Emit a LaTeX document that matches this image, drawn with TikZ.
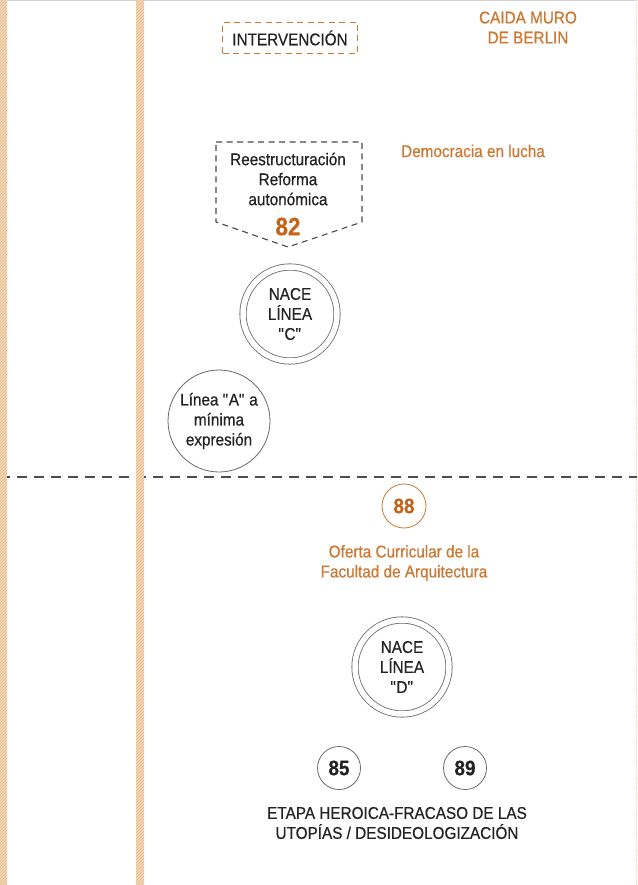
\documentclass[tikz,border=0pt]{standalone}
\usepackage{fontspec}
\setmainfont[FakeStretch=0.9, FakeBold=0.5]{Liberation Sans}
\usepackage{tikz}
\usetikzlibrary{positioning,patterns}

\definecolor{franja}{RGB}{244,214,182}
\definecolor{franjaosc}{RGB}{230,186,142}
\definecolor{naranja}{RGB}{204,120,50}
\definecolor{naranjo}{RGB}{195,100,25}
\definecolor{texto}{RGB}{35,35,35}
\definecolor{trazo}{RGB}{105,105,105}

\begin{document}
\begin{tikzpicture}[x=1pt, y=-1pt,
    every node/.style={font=\fontsize{17}{20}\selectfont, text=texto, align=center, inner sep=0pt},
    anillo/.style={circle, draw=trazo, line width=0.8pt, minimum size=#1},
    dobleanillo/.style={circle, draw=trazo, line width=0.8pt, double=white, double distance=5.5pt, minimum size=94pt},
    numero/.style={font=\fontsize{21}{21}\selectfont\bfseries},
    guiones/.style={dash pattern=on 6pt off 4.5pt, line width=1.1pt}]
    \useasboundingbox (0,0) rectangle (637,885);
    \fill[white] (0,0) rectangle (637,885);
    \draw[gray!35, line width=1.2pt] (0,0.6) -- (637,0.6);
    \draw[franja, densely dotted, line width=0.8pt] (636,0) -- (636,885);

    % linea divisoria
    \draw[gray!60!black, dash pattern=on 10pt off 7pt, line width=1.6pt] (0,477) -- (637,477);

    % franjas
    \foreach \xa/\xb in {0/7, 136/144} {
        \fill[franja] (\xa,0) rectangle (\xb,885);
        \fill[pattern=north east lines, pattern color=franjaosc] (\xa,0) rectangle (\xb,885);
    }

    % parte superior
    \node[draw=naranja, guiones, minimum width=135pt, minimum height=31pt] (interv) at (290,38) {INTERVENCIÓN};
    \node[text=naranja] (muro) at (528,27.5) {CAIDA MURO\\DE BERLIN};
    \node[text=naranja] (democ) at (473,151) {Democracia en lucha};

    \draw[trazo!70!black, guiones] (216,142) -- (362,142) -- (362,222) -- (288,247) -- (216,222) -- cycle;
    \node (reest) at (288,179) {Reestructuración\\Reforma\\autonómica};
    \node[text=naranjo, font=\fontsize{25}{25}\selectfont\bfseries, below=12pt of reest] (ochenta2) {82};

    \node[dobleanillo] (nacec) at (290,314) {NACE\\LÍNEA\\\textquotedbl C\textquotedbl};
    \node[anillo=102pt] (lineaa) at (219,421) {Línea \textquotedbl A\textquotedbl{} a\\mínima\\expresión};

    % parte inferior
    \node[anillo=44pt, draw=naranja, numero, text=naranjo] (ochenta8) at (404,506) {88};
    \node[text=naranja] (oferta) at (404,563) {Oferta Curricular de la\\Facultad de Arquitectura};

    \node[dobleanillo] (naced) at (402,667) {NACE\\LÍNEA\\\textquotedbl D\textquotedbl};
    \node[anillo=43pt, numero] (ochenta5) at (339,768) {85};
    \node[anillo=43pt, numero] (ochenta9) at (465,768) {89};
    \node (etapa) at (397,823) {ETAPA HEROICA-FRACASO DE LAS\\UTOPÍAS / DESIDEOLOGIZACIÓN};
\end{tikzpicture}
\end{document}
